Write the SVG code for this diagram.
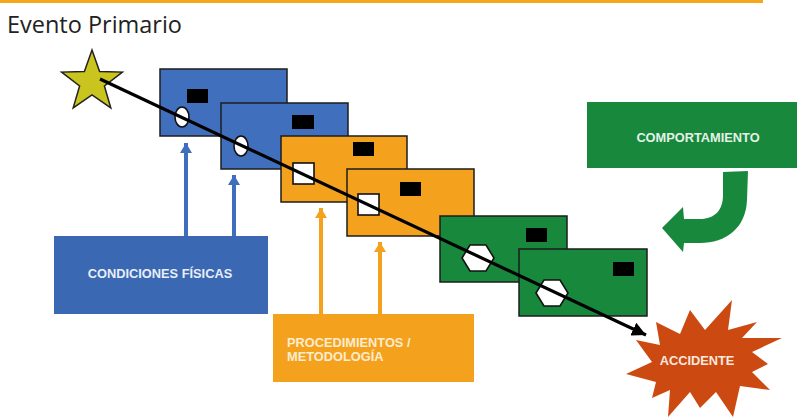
<svg xmlns="http://www.w3.org/2000/svg" width="800" height="417" viewBox="0 0 800 417">
<style>
.slab{stroke:#1c1c1c;stroke-width:1.5}
.blue{fill:#4070bd}
.orange{fill:#f4a21d}
.green{fill:#17883c}
.mark{fill:#000}
.hole{fill:#fff;stroke:#111;stroke-width:1.6}
.lbl{font-family:"Liberation Sans",Arial,sans-serif;font-weight:bold;font-size:12.8px}
.title{font-family:"Open Sans","Noto Sans",sans-serif;font-size:23px;fill:#222}
</style>
<defs>
<marker id="ah" markerUnits="userSpaceOnUse" markerWidth="16" markerHeight="14" refX="14" refY="7" orient="auto">
<path d="M0,0 L14,7 L0,14 Z" fill="#000"/>
</marker>
<marker id="ahb" markerUnits="userSpaceOnUse" markerWidth="12" markerHeight="12" refX="10" refY="6" orient="auto">
<path d="M0,0 L10,6 L0,12 Z" fill="#3f6fbc"/>
</marker>
<marker id="aho" markerUnits="userSpaceOnUse" markerWidth="12" markerHeight="12" refX="10" refY="6" orient="auto">
<path d="M0,0 L10,6 L0,12 Z" fill="#f4a21d"/>
</marker>
</defs>
<rect width="800" height="417" fill="#fff"/>
<line x1="0" y1="1.5" x2="763" y2="1.5" stroke="#f5a81c" stroke-width="3"/>
<text class="title" x="7" y="33" textLength="175" lengthAdjust="spacingAndGlyphs">Evento Primario</text>

<g id="star">
<polygon points="92,50 99.6,71.5 122.4,72.1 104.4,86 110.8,107.9 92,95 73.2,107.9 79.6,86 61.6,72.1 84.4,71.5" fill="#c9c41e" stroke="#222" stroke-width="1.5"/>
</g>

<g id="slab-blue-1">
<rect class="slab blue" x="160" y="69" width="127" height="67"/>
<rect class="mark" x="187" y="89" width="21" height="14"/>
<ellipse class="hole" cx="182" cy="117" rx="7" ry="10"/>
</g>
<g id="slab-blue-2">
<rect class="slab blue" x="221" y="103" width="127" height="66"/>
<rect class="mark" x="292" y="115" width="22" height="14"/>
<ellipse class="hole" cx="241" cy="146" rx="7" ry="10"/>
</g>
<g id="slab-orange-1">
<rect class="slab orange" x="281" y="136" width="126" height="66"/>
<rect class="mark" x="353" y="142" width="21" height="14"/>
<rect class="hole" x="293" y="163" width="21" height="21"/>
</g>
<g id="slab-orange-2">
<rect class="slab orange" x="347" y="169" width="127" height="67"/>
<rect class="mark" x="400" y="182" width="21" height="14"/>
<rect class="hole" x="358" y="194" width="21" height="21"/>
</g>
<g id="slab-green-1">
<rect class="slab green" x="440" y="216" width="127" height="66"/>
<rect class="mark" x="526" y="228" width="21" height="14"/>
<polygon class="hole" points="462,258 470,245 486,245 494,258 486,271 470,271"/>
</g>
<g id="slab-green-2">
<rect class="slab green" x="519" y="249" width="128" height="67"/>
<rect class="mark" x="613" y="262" width="21" height="14"/>
<polygon class="hole" points="536,293 544,280 560,280 568,293 560,306 544,306"/>
</g>

<g id="condiciones">
<rect x="54" y="236" width="214" height="78" fill="#3b68b3"/>
<text class="lbl" x="160" y="278" text-anchor="middle" fill="#e8eef8">CONDICIONES FÍSICAS</text>
</g>
<g id="procedimientos">
<rect x="273" y="314" width="201" height="68" fill="#f4a21d"/>
<text class="lbl" x="287" y="347" fill="#fdeccf">PROCEDIMIENTOS /</text>
<text class="lbl" x="287" y="361" fill="#fdeccf">METODOLOGÍA</text>
</g>
<g id="comportamiento">
<rect x="587" y="102" width="210" height="66" fill="#17883c"/>
<text class="lbl" x="698" y="142" text-anchor="middle" fill="#e4f2e7">COMPORTAMIENTO</text>
</g>
<g id="accidente">
<path d="M732,300 L728,330 L757,322 L742,338 L782,338 L752,352 L768,364 L752,372 L770,390 L740,386 L733,417 L716,392 L700,408 L690,392 L668,417 L670,390 L652,398 L656,382 L626,374 L652,362 L636,340 L660,345 L656,322 L680,334 L690,310 L705,330 Z" fill="#cc4a12"/>
<text class="lbl" x="697" y="365" text-anchor="middle" fill="#fbe8de">ACCIDENTE</text>
</g>

<g id="connectors">
<line x1="186" y1="236" x2="186" y2="143" stroke="#3f6fbc" stroke-width="4" marker-end="url(#ahb)"/>
<line x1="234" y1="236" x2="234" y2="175" stroke="#3f6fbc" stroke-width="4" marker-end="url(#ahb)"/>
<line x1="321" y1="314" x2="321" y2="208" stroke="#f4a21d" stroke-width="4" marker-end="url(#aho)"/>
<line x1="380" y1="314" x2="380" y2="242" stroke="#f4a21d" stroke-width="4" marker-end="url(#aho)"/>
<path d="M723,172 L748,171 L747,200 C746,228 726,243 700,243 L684,243 L683,252 L662,228 L683,207 L684,219 L700,219 C715,219 723,210 723,195 Z" fill="#17883c"/>
<line x1="100" y1="79" x2="646" y2="335" stroke="#000" stroke-width="3.2" marker-end="url(#ah)"/>
</g>
</svg>
